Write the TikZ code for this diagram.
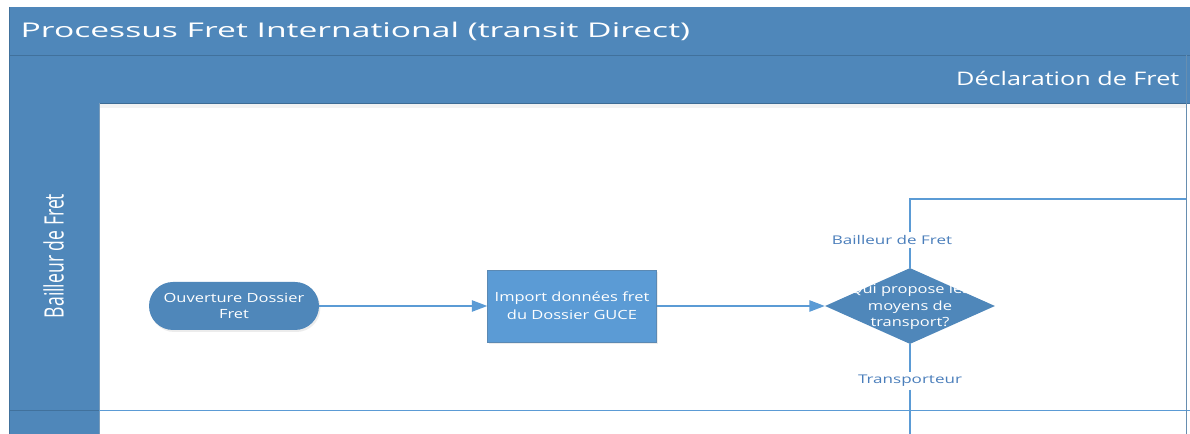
\documentclass[tikz,border=0pt]{standalone}
\usepackage{fontspec}
\setmainfont{Open Sans}
\newfontfamily\titlefont{Open Sans}[FakeStretch=1.66]
\newfontfamily\phasefont{Open Sans}[FakeStretch=1.35]
\newfontfamily\stepfont{Open Sans}[FakeStretch=1.3]
\newfontfamily\labelfont{Open Sans}[FakeStretch=1.42]
\newfontfamily\lanefont{Open Sans}[FakeStretch=0.66]
\usetikzlibrary{shapes.geometric,arrows.meta,shadows}

\definecolor{headblue}{HTML}{4F87BA}
\definecolor{edgeblue}{HTML}{41719C}
\definecolor{boxblue}{HTML}{5B9BD5}
\definecolor{lineblue}{HTML}{5B9BD5}
\definecolor{labelblue}{HTML}{4A7EBB}

\begin{document}
\begin{tikzpicture}[x=0.75pt,y=-0.75pt,
  terminal/.style={fill=headblue, rounded corners=18pt, minimum width=127.5pt, minimum height=36pt, text=white, align=center, font=\stepfont\fontsize{9.5}{12.5}\selectfont, drop shadow={opacity=0.15, shadow xshift=1pt, shadow yshift=-1.5pt}},
  process/.style={fill=boxblue, draw=boxblue!80!black!90, line width=0.4pt, minimum width=126.75pt, minimum height=54pt, text=white, align=center, font=\stepfont\fontsize{9.5}{13.5}\selectfont, drop shadow={opacity=0.15, shadow xshift=1pt, shadow yshift=-1.5pt}},
  decision/.style={diamond, fill=headblue, minimum width=127.5pt, minimum height=57pt, inner sep=0pt},
  flow/.style={lineblue, line width=1pt, -{Triangle[length=11.5pt,width=8.5pt]}},
  branch/.style={lineblue, line width=1pt},
  branchlabel/.style={fill=white, text=labelblue, inner sep=2pt, font=\labelfont\fontsize{9}{11}\selectfont}]

% Canvas
\useasboundingbox (0,0) rectangle (1190,434);
\fill[white] (0,0) rectangle (1190,434);

% Title bar
\fill[headblue] (9,7) rectangle (1190,55);
\node (title) at (16,37.5) [anchor=base west, text=white, font=\titlefont\fontsize{15.2}{18}\selectfont] {Processus Fret International (transit Direct)};

% Phase bar
\fill[headblue] (9,55) rectangle (1190,103);
\draw[edgeblue] (9,55) -- (1190,55);
\draw[edgeblue] (9,103) -- (1190,103);
\fill[black, opacity=0.05] (99,103.5) rectangle (1186,108);
\node (phase) at (1184,86) [anchor=base east, text=white, font=\phasefont\fontsize{14}{17}\selectfont] {Déclaration de Fret};

% Lane header
\fill[headblue] (9,103) rectangle (99,434);
\draw[edgeblue] (9,7) -- (9,434);
\draw[edgeblue!70] (99,103) -- (99,434);
\node (lane) at (53.5,256) [rotate=90, text=white, font=\lanefont\fontsize{20}{24}\selectfont] {Bailleur de Fret};

% Lane and phase borders
\draw[edgeblue] (9,410) -- (99,410);
\draw[lineblue] (99,410) -- (1190,410);
\draw[edgeblue!80] (1186,55) -- (1186,434);

% Steps
\node (ouverture) at (234,306) [terminal] {Ouverture Dossier\\Fret};
\node (import) at (572,306) [process] {Import données fret\\du Dossier GUCE};
\node (choix) at (910,306) [decision] {};
\node (choixtexte) at (910,307) [text=white, align=center, font=\stepfont\fontsize{9.5}{12.5}\selectfont] {Qui propose les\\moyens de\\transport?};

% Flows
\draw[flow] (ouverture) -- (import);
\draw[flow] (import) -- (choix);

% Branches
\node (bailleur) at (892,240) [branchlabel] {Bailleur de Fret};
\node (transporteur) at (910,381) [branchlabel] {Transporteur};
\coordinate (haut) at (910,199);
\coordinate (hautdroite) at (1186,199);
\coordinate (bas) at (910,434);
\draw[branch] (choix.north) -- (choix.north |- bailleur.south);
\draw[branch] (choix.north |- bailleur.north) -- (haut) -- (hautdroite);
\draw[branch] (choix.south) -- (transporteur);
\draw[branch] (transporteur) -- (bas);

\end{tikzpicture}
\end{document}
